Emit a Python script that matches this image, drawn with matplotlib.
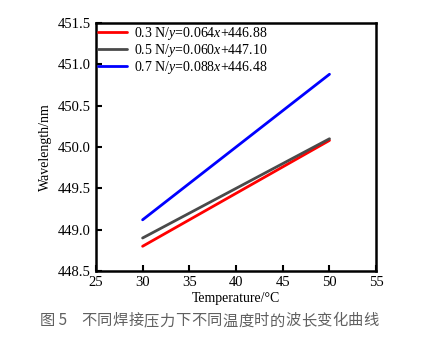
import matplotlib
matplotlib.use("Agg")
import matplotlib.pyplot as plt

temperature = [30, 50]
series_labels = ["0.3 N/$y$=0.064$x$+446.88",
                 "0.5 N/$y$=0.060$x$+447.10",
                 "0.7 N/$y$=0.088$x$+446.48"]
wl_03 = [448.80, 450.08]
wl_05 = [448.90, 450.10]
wl_07 = [449.12, 450.88]
colors = ["#ff0000", "#4a4a4a", "#0000ff"]
xticks = [25, 30, 35, 40, 45, 50, 55]
yticks = [448.5, 449.0, 449.5, 450.0, 450.5, 451.0, 451.5]
caption_fig = "图 5"
caption_text = "不同焊接压力下不同温度时的波长变化曲线"

plt.rcParams['font.family'] = ['Liberation Serif', 'DejaVu Serif']
plt.rcParams['mathtext.fontset'] = 'custom'
plt.rcParams['mathtext.rm'] = 'Liberation Serif'
plt.rcParams['mathtext.it'] = 'Liberation Serif:italic'

fig = plt.figure(figsize=(4.28, 3.48), dpi=100)
ax = fig.add_axes([0.224, 0.221, 0.655, 0.713])

for ys, c, lab in zip([wl_03, wl_05, wl_07], colors, series_labels):
    ax.plot(temperature, ys, color=c, lw=2.0, label=lab, solid_capstyle='round')

ax.set_xlim(25, 55)
ax.set_ylim(448.5, 451.5)
ax.set_xticks(xticks)
ax.set_yticks(yticks)
ax.set_yticklabels([f"{v:.1f}" for v in yticks])
ax.tick_params(direction='in', length=4, width=1.5, labelsize=10.5, top=False, right=False)
for s in ax.spines.values():
    s.set_linewidth(1.8)

ax.set_xlabel("Temperature/°C", fontsize=10, labelpad=2)
ax.set_ylabel("Wavelength/nm", fontsize=10, labelpad=4)

leg = ax.legend(loc='upper left', frameon=False, fontsize=10, handlelength=2.1,
                handletextpad=0.5, labelspacing=0.0, borderaxespad=0.0,
                borderpad=0.15)

cjk = ['Noto Sans CJK SC', 'DejaVu Sans']
fig.text(40 / 428, 0.078, caption_fig, ha='left', va='center', fontsize=11,
         color='#606060', family=cjk)
x0, x1 = 81 / 428, 379 / 428
n = len(caption_text)
for i, ch in enumerate(caption_text):
    fig.text(x0 + (x1 - x0) * (i + 0.5) / n, 0.078, ch, ha='center', va='center',
             fontsize=11, color='#606060', family=cjk)

fig.savefig("out.png", dpi=100)
